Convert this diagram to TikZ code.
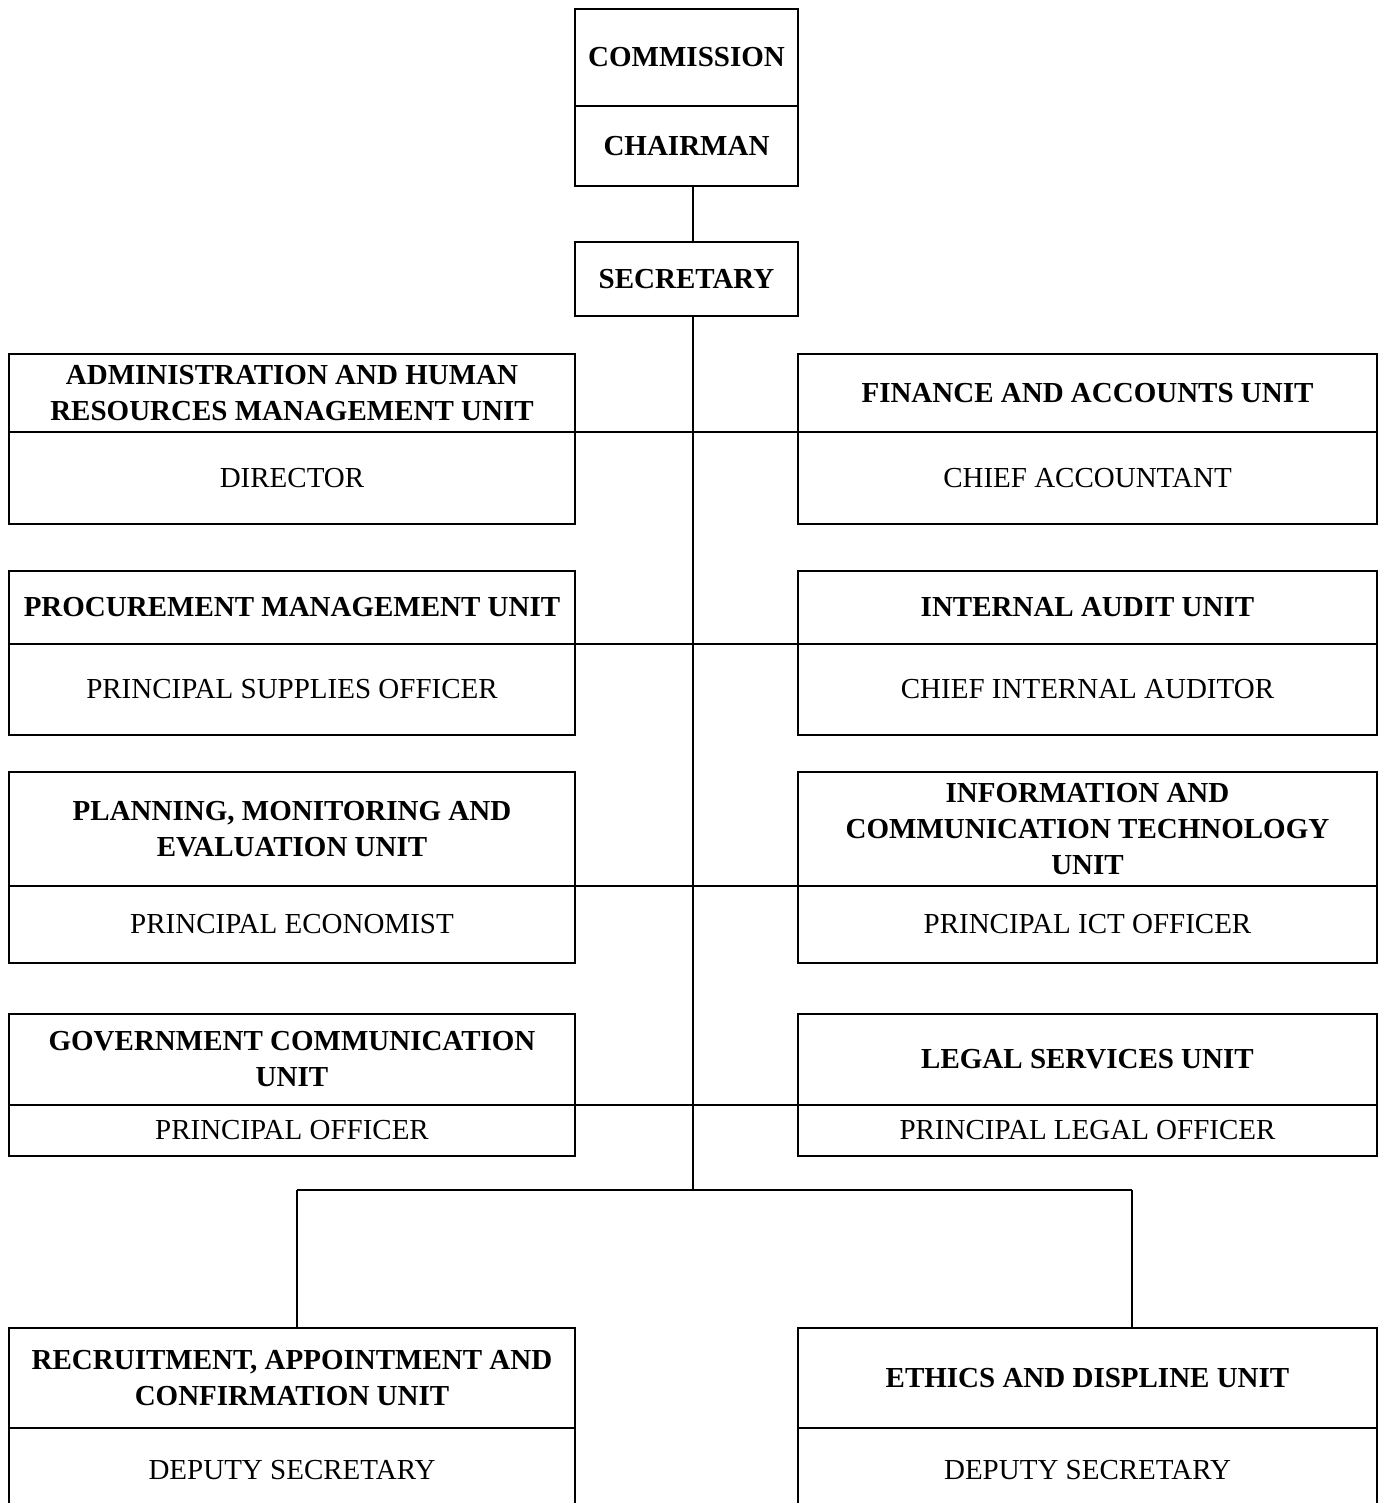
\documentclass[tikz,border=0pt]{standalone}
\usepackage{fontspec}
\setmainfont{Liberation Serif}
\usetikzlibrary{positioning}

\begin{document}
\begin{tikzpicture}[x=1pt,y=-1pt,
      unit/.style={
         rectangle,
         draw,
         line width=2.6pt,
         inner sep=0pt,
         outer sep=0pt,
         align=center,
         font=\fontsize{29}{36}\selectfont\bfseries
      },
      post/.style={
         unit,
         font=\fontsize{29}{36}\selectfont
      },
      lside/.style={minimum width=566pt},
      rside/.style={minimum width=579pt},
      mid/.style={minimum width=223pt},
      link/.style={line width=2.3pt},
    ]
    \useasboundingbox (0,0) rectangle (1384,1503);
    % top of the chart
    \node (comm) [unit, mid, minimum height=97pt] at (686.5,57.5) {COMMISSION};
    \node (chair) [unit, mid, minimum height=80pt, below=0pt of comm] {CHAIRMAN};
    \node (sec) [unit, mid, minimum height=74pt] at (686.5,279) {SECRETARY};
    % left column
    \node (adm) [unit, lside, minimum height=78pt] at (292,393) {ADMINISTRATION AND HUMAN\\RESOURCES MANAGEMENT UNIT};
    \node (admp) [post, lside, minimum height=92pt, below=0pt of adm] {DIRECTOR};
    \node (proc) [unit, lside, minimum height=73pt] at (292,607.5) {PROCUREMENT MANAGEMENT UNIT};
    \node (procp) [post, lside, minimum height=91pt, below=0pt of proc] {PRINCIPAL SUPPLIES OFFICER};
    \node (plan) [unit, lside, minimum height=114pt] at (292,829) {PLANNING, MONITORING AND\\EVALUATION UNIT};
    \node (planp) [post, lside, minimum height=77pt, below=0pt of plan] {PRINCIPAL ECONOMIST};
    \node (gov) [unit, lside, minimum height=91pt] at (292,1059.5) {GOVERNMENT COMMUNICATION\\UNIT};
    \node (govp) [post, lside, minimum height=51pt, below=0pt of gov] {PRINCIPAL OFFICER};
    \node (rec) [unit, lside, minimum height=100pt] at (292,1378) {RECRUITMENT, APPOINTMENT AND\\CONFIRMATION UNIT};
    \node (recp) [post, lside, minimum height=84pt, below=0pt of rec] {DEPUTY SECRETARY};
    % right column
    \node (fin) [unit, rside, minimum height=78pt] at (1087.5,393) {FINANCE AND ACCOUNTS UNIT};
    \node (finp) [post, rside, minimum height=92pt, below=0pt of fin] {CHIEF ACCOUNTANT};
    \node (aud) [unit, rside, minimum height=73pt] at (1087.5,607.5) {INTERNAL AUDIT UNIT};
    \node (audp) [post, rside, minimum height=91pt, below=0pt of aud] {CHIEF INTERNAL AUDITOR};
    \node (ict) [unit, rside, minimum height=114pt] at (1087.5,829) {INFORMATION AND\\COMMUNICATION TECHNOLOGY\\UNIT};
    \node (ictp) [post, rside, minimum height=77pt, below=0pt of ict] {PRINCIPAL ICT OFFICER};
    \node (leg) [unit, rside, minimum height=91pt] at (1087.5,1059.5) {LEGAL SERVICES UNIT};
    \node (legp) [post, rside, minimum height=51pt, below=0pt of leg] {PRINCIPAL LEGAL OFFICER};
    \node (eth) [unit, rside, minimum height=100pt] at (1087.5,1378) {ETHICS AND DISPLINE UNIT};
    \node (ethp) [post, rside, minimum height=84pt, below=0pt of eth] {DEPUTY SECRETARY};
    % connectors
    \coordinate (fork) at (693,1190);
    \coordinate (lfork) at (297,1190);
    \coordinate (rfork) at (1132,1190);
    \draw[link] (chair.south -| fork) -- (sec.north -| fork);
    \draw[link] (sec.south -| fork) -- (fork);
    \draw[link] (adm.south east) -- (fin.south west);
    \draw[link] (proc.south east) -- (aud.south west);
    \draw[link] (plan.south east) -- (ict.south west);
    \draw[link] (gov.south east) -- (leg.south west);
    \draw[link] (lfork) -- (rfork);
    \draw[link] (lfork) -- (lfork |- rec.north);
    \draw[link] (rfork) -- (rfork |- eth.north);
\end{tikzpicture}
\end{document}
